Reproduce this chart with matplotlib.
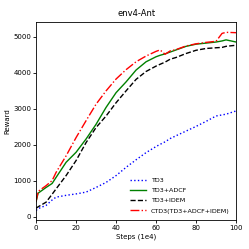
import matplotlib.pyplot as plt

# data
steps = [0, 1, 5, 8, 10, 15, 20, 25, 30, 35, 40, 45, 50, 55, 60, 62, 64.5, 67, 70, 75, 80, 85, 90, 93, 95, 100]

td3 = [170, 220, 310, 460, 540, 590, 630, 680, 810, 950, 1140, 1370, 1580, 1780, 1950, 2010, 2080, 2170, 2250, 2380, 2510, 2650, 2800, 2830, 2850, 2940]
td3_adcf = [420, 650, 810, 920, 1090, 1510, 1790, 2160, 2570, 3040, 3450, 3750, 4080, 4310, 4450, 4490, 4530, 4580, 4640, 4740, 4800, 4830, 4860, 4890, 4920, 4860]
td3_idem = [230, 270, 400, 620, 770, 1140, 1560, 2060, 2480, 2800, 3170, 3500, 3820, 4040, 4190, 4240, 4300, 4380, 4430, 4540, 4630, 4680, 4700, 4710, 4740, 4770]
ctd3 = [420, 700, 860, 1000, 1230, 1690, 2200, 2670, 3130, 3500, 3830, 4090, 4310, 4470, 4600, 4640, 4520, 4610, 4650, 4750, 4810, 4850, 4880, 5100, 5130, 5120]

fig = plt.figure(figsize=(2.49, 2.49), dpi=100)
ax = fig.add_axes([0.145, 0.116, 0.803, 0.796])

ax.plot(steps, td3, color='blue', linestyle=':', linewidth=1.0, label='TD3')
ax.plot(steps, td3_adcf, color='green', linestyle='-', linewidth=1.0, label='TD3+ADCF')
ax.plot(steps, td3_idem, color='black', linestyle='--', linewidth=1.0, label='TD3+IDEM')
ax.plot(steps, ctd3, color='red', linestyle='-.', linewidth=1.0, label='CTD3(TD3+ADCF+IDEM)')

ax.set_xlim(0, 100)
ax.set_ylim(-100, 5420)
ax.set_xticks([0, 20, 40, 60, 80, 100])
ax.set_yticks([0, 1000, 2000, 3000, 4000, 5000])
ax.tick_params(labelsize=5, length=2, width=0.6, pad=1.5)
for s in ax.spines.values():
    s.set_linewidth(0.6)

ax.set_title('env4-Ant', fontsize=6, pad=4)
ax.set_xlabel('Steps (1e4)', fontsize=5, labelpad=1.5)
ax.set_ylabel('Reward', fontsize=5, labelpad=2)
ax.legend(loc='lower right', fontsize=4.6, frameon=False, handlelength=2.4,
          borderaxespad=0.6, labelspacing=0.75)

fig.savefig('out.png', dpi=100)
